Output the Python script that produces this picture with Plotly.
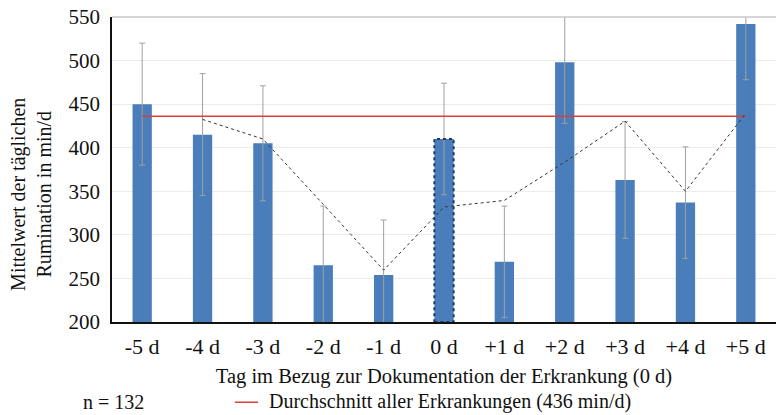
import plotly.graph_objects as go
import pandas as pd

# Days relative to the documented illness (0 d)
days = ["-5 d", "-4 d", "-3 d", "-2 d", "-1 d", "0 d", "+1 d", "+2 d", "+3 d", "+4 d", "+5 d"]
# Mean daily rumination (min/d) and standard deviation per day
mean_rumination = [450, 415, 405, 265, 254, 410, 269, 498, 363, 337, 542]
sd_rumination = [70, 70, 66, 68, 63, 64, 64, 70, 67, 64, 64]
# Average across all illnesses
overall_mean = 436
n_cases = 132

FONT = "Liberation Serif"
TEXT = "#111111"
BAR_BLUE = "#4A7EBB"
RED = "#d9403a"
BAR_WIDTH = 0.32

x_idx = list(range(len(days)))
# 2-period moving average trend line of the daily means
moving_avg = pd.Series(mean_rumination).rolling(2).mean()

fig = go.Figure()

fig.add_trace(go.Bar(
    x=x_idx,
    y=mean_rumination,
    width=BAR_WIDTH,
    marker=dict(color=BAR_BLUE, line=dict(width=0)),
    error_y=dict(type="data", array=sd_rumination, symmetric=True,
                 color="#a0a0a0", thickness=1, width=3),
    showlegend=False,
))

# Average of all illnesses, spanning first to last day
fig.add_trace(go.Scatter(
    x=[x_idx[0], x_idx[-1]],
    y=[overall_mean, overall_mean],
    mode="lines",
    line=dict(color=RED, width=1.5),
    showlegend=False,
))

fig.add_trace(go.Scatter(
    x=x_idx[1:],
    y=moving_avg[1:].tolist(),
    mode="lines",
    line=dict(color="#333333", width=1, dash="dot"),
    showlegend=False,
))

# Dotted outline highlighting the day of documentation
i0 = days.index("0 d")
fig.add_shape(type="rect", xref="x", yref="y",
              x0=i0 - BAR_WIDTH / 2, x1=i0 + BAR_WIDTH / 2,
              y0=200, y1=mean_rumination[i0],
              line=dict(color="#1f3864", width=2, dash="dot"),
              fillcolor="rgba(0,0,0,0)", layer="above")

# Top border of the plot area
fig.add_shape(type="line", xref="paper", yref="paper", x0=0, x1=1, y0=1, y1=1,
              line=dict(color="#c8c8c8", width=1.5))

# Y axis title, set slightly below the axis centre
fig.add_annotation(xref="paper", yref="paper", x=-0.122, y=0.42,
                   text="Mittelwert der täglichen<br>Rumination in min/d",
                   textangle=-90, showarrow=False, xanchor="center", yanchor="middle",
                   font=dict(family=FONT, size=20, color=TEXT))

# Bottom key: sample size and red line entry
fig.add_annotation(xref="paper", yref="paper", x=-0.047, y=-0.262,
                   text=f"n = {n_cases}", showarrow=False, xanchor="left",
                   yanchor="middle", font=dict(family=FONT, size=20, color=TEXT))
fig.add_shape(type="line", xref="paper", yref="paper",
              x0=0.185, x1=0.22, y0=-0.263, y1=-0.263,
              line=dict(color=RED, width=1.5))
fig.add_annotation(xref="paper", yref="paper", x=0.234, y=-0.262,
                   text=f"Durchschnitt aller Erkrankungen ({overall_mean} min/d)",
                   showarrow=False, xanchor="left", yanchor="middle",
                   font=dict(family=FONT, size=20, color=TEXT))

fig.update_layout(
    width=776, height=415,
    margin=dict(l=112, r=0, t=17, b=93),
    paper_bgcolor="white", plot_bgcolor="white",
    font=dict(family=FONT, color=TEXT),
)

fig.update_xaxes(
    range=[-0.5, len(days) - 0.5],
    tickmode="array", tickvals=x_idx, ticktext=days,
    tickfont=dict(family=FONT, size=22),
    ticklabelstandoff=4,
    showline=True, linecolor="#111111", linewidth=1.5,
    showgrid=False, ticks="",
    title=dict(text="Tag im Bezug zur Dokumentation der Erkrankung (0 d)",
               font=dict(family=FONT, size=20.5), standoff=10),
)

fig.update_yaxes(
    range=[200, 550], dtick=50,
    tickfont=dict(family=FONT, size=21),
    ticklabelstandoff=6,
    showline=True, linecolor="#111111", linewidth=1.5,
    showgrid=True, gridcolor="#ececec", gridwidth=1,
    ticks="", zeroline=False,
)

fig.write_html("out.html")
